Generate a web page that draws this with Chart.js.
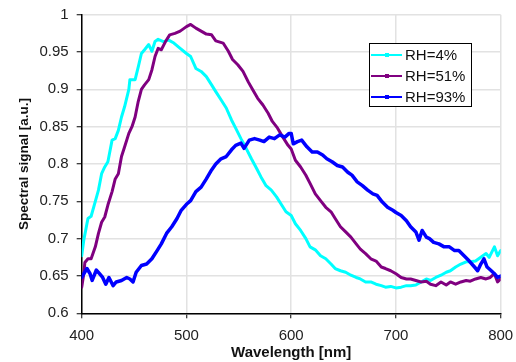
<!DOCTYPE html>
<html>
<head>
<meta charset="utf-8">
<script src="https://cdn.jsdelivr.net/npm/chart.js@4/dist/chart.umd.min.js"></script>
<style>
html,body{margin:0;padding:0;background:#fff;}
#wrap{width:516px;height:362px;}
</style>
</head>
<body>
<div id="wrap"><canvas id="c" width="516" height="362"></canvas></div>
<script>
// ---- data ----
const seriesLabels = ['RH=4%', 'RH=51%', 'RH=93%'];

const rh4Wl  = [400,402,405,406,409,413,416,419,422,425,429,432,435,438,441,445,446,451,454,457,460,464,467,470,473,478,483,488,494,500,504,509,514,519,524,528,533,538,543,547,552,557,562,567,571,576,581,586,590,595,600,604,609,614,618,623,628,633,638,642,647,652,657,662,666,671,676,681,686,690,695,700,705,710,714,719,724,729,733,738,743,748,752,757,762,767,771,776,781,786,789,794,797,800];
const rh4Val = [0.677,0.698,0.72,0.727,0.73,0.75,0.765,0.787,0.796,0.803,0.832,0.834,0.845,0.863,0.877,0.9,0.913,0.913,0.93,0.948,0.953,0.96,0.951,0.964,0.967,0.964,0.966,0.962,0.955,0.948,0.944,0.928,0.924,0.917,0.906,0.897,0.886,0.875,0.859,0.848,0.834,0.821,0.807,0.794,0.783,0.771,0.765,0.756,0.747,0.736,0.731,0.72,0.711,0.7,0.689,0.685,0.677,0.673,0.666,0.66,0.657,0.655,0.651,0.648,0.646,0.642,0.642,0.639,0.637,0.635,0.636,0.634,0.635,0.637,0.637,0.638,0.642,0.646,0.644,0.648,0.651,0.655,0.657,0.662,0.666,0.669,0.669,0.67,0.675,0.68,0.675,0.689,0.677,0.684];

const rh51Wl  = [400,402,403,406,409,413,416,419,422,425,429,432,435,438,441,445,448,451,454,457,460,464,467,470,473,476,480,484,489,494,500,504,509,514,519,524,528,535,540,544,549,554,559,563,568,573,578,582,587,592,597,600,604,609,614,618,623,628,633,638,642,647,652,657,662,666,671,676,681,686,690,695,700,705,710,714,719,724,729,733,738,743,748,752,757,762,767,771,776,781,786,790,794,797,800];
const rh51Val = [0.635,0.653,0.668,0.673,0.673,0.689,0.707,0.722,0.729,0.745,0.763,0.78,0.787,0.81,0.823,0.841,0.85,0.863,0.884,0.9,0.906,0.913,0.926,0.944,0.955,0.953,0.964,0.973,0.975,0.978,0.984,0.987,0.982,0.978,0.974,0.973,0.965,0.962,0.951,0.94,0.933,0.924,0.91,0.9,0.888,0.879,0.868,0.857,0.848,0.836,0.825,0.82,0.805,0.796,0.785,0.774,0.76,0.751,0.742,0.736,0.727,0.716,0.709,0.702,0.693,0.686,0.68,0.673,0.67,0.662,0.66,0.657,0.653,0.648,0.646,0.646,0.644,0.642,0.643,0.639,0.637,0.642,0.638,0.642,0.639,0.642,0.644,0.643,0.646,0.648,0.646,0.648,0.653,0.642,0.646];

const rh93Wl  = [400,402,405,408,410,414,417,420,423,426,430,433,438,443,446,449,452,457,462,467,472,476,481,486,491,495,500,504,509,514,519,524,528,533,538,543,547,552,555,560,565,570,574,579,584,589,594,598,600,602,606,610,615,620,625,630,634,639,644,649,654,658,663,668,673,678,682,687,692,697,700,705,710,714,719,722,725,729,732,736,741,746,751,756,760,765,770,775,778,781,784,787,791,794,797,800];
const rh93Val = [0.648,0.653,0.66,0.653,0.644,0.658,0.653,0.648,0.639,0.648,0.637,0.642,0.644,0.648,0.646,0.642,0.655,0.664,0.666,0.673,0.684,0.693,0.707,0.716,0.727,0.738,0.746,0.751,0.763,0.769,0.78,0.792,0.8,0.807,0.81,0.819,0.825,0.828,0.821,0.832,0.834,0.832,0.83,0.836,0.834,0.839,0.836,0.841,0.841,0.827,0.83,0.832,0.823,0.816,0.816,0.812,0.807,0.803,0.798,0.796,0.789,0.785,0.776,0.771,0.765,0.76,0.758,0.749,0.742,0.738,0.735,0.731,0.724,0.716,0.709,0.698,0.711,0.702,0.7,0.695,0.693,0.689,0.689,0.684,0.684,0.677,0.67,0.662,0.657,0.666,0.673,0.662,0.657,0.653,0.648,0.65];

const xTicks = [400,500,600,700,800];
const yTicks = [0.6,0.65,0.7,0.75,0.8,0.85,0.9,0.95,1];

const seriesColors = ['#00FFFF', '#800080', '#0000FF'];

// ---- build chart ----
function pts(wl, val){ return wl.map((w,i)=>({x:w, y:val[i]})); }

const FONT = "'Liberation Sans', Arial, sans-serif";

const legendPlugin = {
  id: 'boxLegend',
  afterDraw(chart){
    const ctx = chart.ctx;
    const bx = 369.5, by = 43.5, bw = 102, bh = 63;
    ctx.save();
    ctx.fillStyle = '#fff';
    ctx.fillRect(bx, by, bw, bh);
    ctx.strokeStyle = '#000';
    ctx.lineWidth = 1;
    ctx.strokeRect(bx, by, bw, bh);
    const rows = [55, 76, 97];
    chart.data.datasets.forEach((ds, i) => {
      const y = rows[i];
      ctx.strokeStyle = ds.borderColor;
      ctx.lineWidth = 2;
      ctx.beginPath();
      ctx.moveTo(371, y);
      ctx.lineTo(402, y);
      ctx.stroke();
      ctx.fillStyle = ds.borderColor;
      ctx.fillRect(385, y - 2, 4, 4);
      ctx.fillStyle = '#111';
      ctx.font = '15px ' + FONT;
      ctx.textBaseline = 'middle';
      ctx.textAlign = 'left';
      ctx.fillText(ds.label, 405, y + 1);
    });
    ctx.restore();
  }
};

const datasets = [
  {label: seriesLabels[0], data: pts(rh4Wl, rh4Val), borderColor: seriesColors[0], borderWidth: 3, order: 2},
  {label: seriesLabels[1], data: pts(rh51Wl, rh51Val), borderColor: seriesColors[1], borderWidth: 3, order: 1},
  {label: seriesLabels[2], data: pts(rh93Wl, rh93Val), borderColor: seriesColors[2], borderWidth: 3.5, order: 0}
];
datasets.forEach(d => { d.pointRadius = 0; d.fill = false; d.tension = 0; d.borderJoinStyle = 'round'; d.borderCapStyle = 'round'; });

new Chart(document.getElementById('c'), {
  type: 'line',
  data: {datasets},
  options: {
    responsive: false,
    animation: false,
    events: [],
    layout: {padding: {top: 14.7, right: 15.3, left: 0, bottom: 0}},
    plugins: {legend: {display: false}, tooltip: {enabled: false}},
    scales: {
      x: {
        type: 'linear',
        min: 400, max: 800,
        afterBuildTicks: s => { s.ticks = xTicks.map(v => ({value: v})); },
        afterFit: s => { s.height = 48.7; s.paddingLeft = 0; s.paddingRight = 0; },
        grid: {color: '#e2e2e2', lineWidth: 1.5, tickColor: '#000', tickLength: 5, tickWidth: 1},
        border: {color: '#000', width: 1.5},
        ticks: {color: '#222', font: {family: FONT, size: 15}, padding: 9, maxRotation: 0,
                callback: v => String(v)},
        title: {display: true, text: 'Wavelength [nm]', color: '#111',
                font: {family: FONT, size: 15, weight: 'bold'}, padding: {top: 0, bottom: 0}}
      },
      y: {
        type: 'linear',
        min: 0.6, max: 1,
        afterBuildTicks: s => { s.ticks = yTicks.map(v => ({value: v})); },
        afterFit: s => { s.width = 81.7; s.paddingTop = 0; s.paddingBottom = 0; },
        grid: {color: '#e2e2e2', lineWidth: 1.5, tickColor: '#000', tickLength: 5, tickWidth: 1},
        border: {color: '#000', width: 1.5},
        ticks: {color: '#222', font: {family: FONT, size: 15}, padding: 8,
                callback: v => String(+Number(v).toFixed(2))},
        title: {display: true, text: 'Spectral signal [a.u.]', color: '#111',
                font: {family: FONT, size: 13.5, weight: 'bold'}, padding: {top: 16, bottom: 0}}
      }
    }
  },
  plugins: [legendPlugin]
});
</script>
</body>
</html>
